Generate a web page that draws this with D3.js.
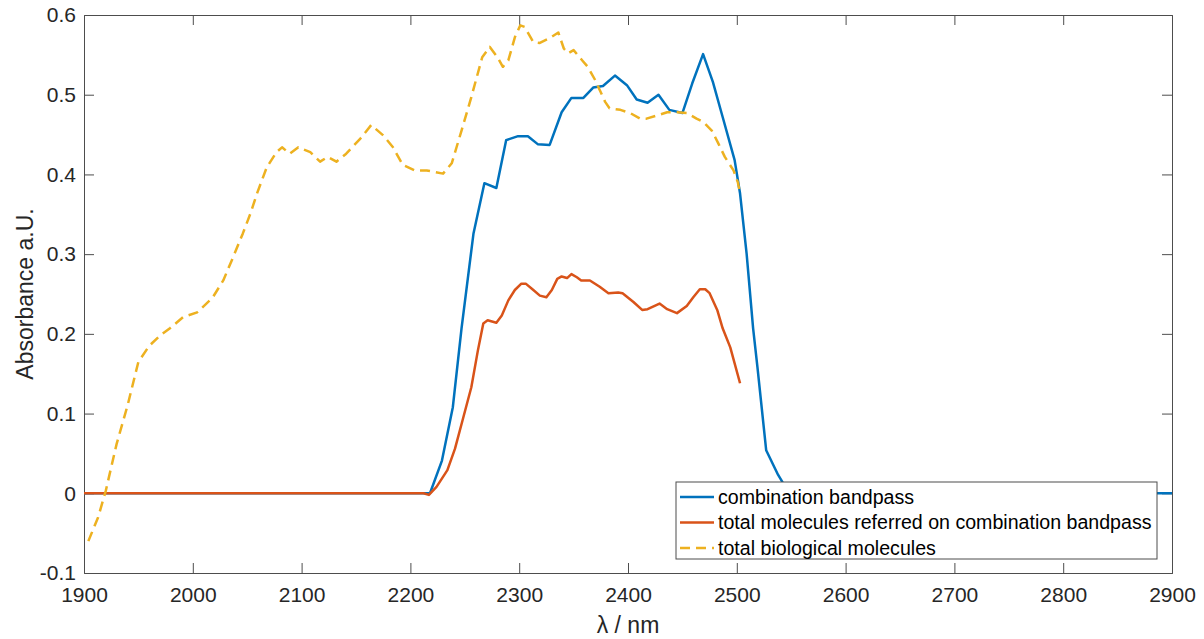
<!DOCTYPE html>
<html>
<head>
<meta charset="utf-8">
<script src="https://cdn.jsdelivr.net/npm/d3@7"></script>
<style>
  body { margin: 0; background: #fff; }
  svg { display: block; font-family: "Liberation Sans", Arial, sans-serif; }
</style>
</head>
<body>
<svg id="chart" width="1204" height="639"></svg>
<script>
// Datos
const xTicks = [1900, 2000, 2100, 2200, 2300, 2400, 2500, 2600, 2700, 2800, 2900];
const yTicks = [-0.1, 0, 0.1, 0.2, 0.3, 0.4, 0.5, 0.6];

const seriesNames = [
  'combination bandpass',
  'total molecules referred on combination bandpass',
  'total biological molecules'
];

// combination bandpass
const bandNm = [1900, 2218, 2229, 2239, 2247, 2258, 2268, 2279, 2288, 2299, 2308, 2317, 2328, 2339, 2348,
  2359, 2368, 2377, 2388, 2399, 2408, 2418, 2428, 2438, 2450, 2459, 2469, 2478, 2487, 2498,
  2503, 2509, 2515, 2519, 2527, 2538, 2542, 2549, 2900];
const bandAbs = [0, 0, 0.041, 0.108, 0.207, 0.326, 0.389, 0.383, 0.443, 0.448, 0.448, 0.438, 0.437, 0.478, 0.496,
  0.496, 0.509, 0.511, 0.524, 0.512, 0.494, 0.490, 0.500, 0.481, 0.477, 0.514, 0.551, 0.516, 0.472, 0.418,
  0.376, 0.301, 0.207, 0.158, 0.054, 0.023, 0.014, 0, 0];

// total molecules referred on combination bandpass
const refNm = [1900, 2212, 2217, 2224, 2234, 2241, 2248, 2256, 2262, 2267, 2271, 2279, 2284, 2290, 2296,
  2302, 2306, 2313, 2319, 2325, 2330, 2335, 2339, 2344, 2348, 2353, 2357, 2365, 2374, 2382,
  2391, 2395, 2405, 2413, 2418, 2429, 2436, 2445, 2454, 2460, 2466, 2471, 2475, 2482, 2487,
  2494, 2503];
const refAbs = [0, 0, -0.002, 0.008, 0.029, 0.056, 0.092, 0.133, 0.179, 0.213, 0.217, 0.214, 0.223, 0.242, 0.255,
  0.263, 0.263, 0.255, 0.248, 0.246, 0.255, 0.269, 0.272, 0.270, 0.275, 0.271, 0.267, 0.267, 0.259, 0.251,
  0.252, 0.251, 0.240, 0.230, 0.231, 0.238, 0.231, 0.226, 0.235, 0.246, 0.256, 0.256, 0.251, 0.230, 0.207,
  0.183, 0.138];

// total biological molecules
const bioNm = [1904, 1913, 1920, 1930, 1940, 1950, 1960, 1970, 1979, 1991, 2004, 2018, 2028, 2037, 2046,
  2053, 2059, 2068, 2077, 2082, 2089, 2097, 2108, 2117, 2124, 2132, 2141, 2154, 2164, 2175,
  2184, 2193, 2204, 2215, 2230, 2238, 2247, 2256, 2266, 2273, 2280, 2285, 2290, 2296, 2301,
  2305, 2313, 2319, 2328, 2336, 2341, 2345, 2350, 2358, 2363, 2370, 2374, 2379, 2383, 2393,
  2402, 2411, 2417, 2427, 2436, 2445, 2454, 2463, 2469, 2477, 2483, 2489, 2497, 2501, 2503];
const bioAbs = [-0.060, -0.030, 0.003, 0.062, 0.110, 0.165, 0.185, 0.198, 0.207, 0.221, 0.227, 0.245, 0.267, 0.296, 0.326,
  0.351, 0.376, 0.409, 0.428, 0.434, 0.426, 0.434, 0.428, 0.416, 0.422, 0.416, 0.426, 0.445, 0.462, 0.449,
  0.434, 0.412, 0.405, 0.405, 0.401, 0.414, 0.455, 0.497, 0.547, 0.560, 0.547, 0.535, 0.543, 0.572, 0.587,
  0.585, 0.566, 0.565, 0.571, 0.578, 0.558, 0.552, 0.556, 0.543, 0.535, 0.518, 0.506, 0.491, 0.483, 0.481,
  0.477, 0.470, 0.470, 0.474, 0.478, 0.478, 0.477, 0.470, 0.466, 0.455, 0.439, 0.422, 0.405, 0.390, 0.376];

const colors = ['#0072BD', '#D95319', '#EDB120'];

// Configuración
const svg = d3.select('#chart');
const margin = { t: 15, r: 32, b: 66, l: 84 };
const width = 1204, height = 639;
const axisColor = '#4d4d4d';

const x = d3.scaleLinear().domain([1900, 2900]).range([margin.l, width - margin.r]);
const y = d3.scaleLinear().domain([-0.1, 0.6]).range([height - margin.b, margin.t]);

const tickLen = 10;
const fmtY = d => d === 0 ? '0' : d.toFixed(1);

// Ejes
const gx = svg.append('g').attr('transform', `translate(0,${y(-0.1)})`)
  .call(d3.axisBottom(x).tickValues(xTicks).tickSize(-tickLen).tickPadding(14).tickFormat(d3.format('d')));
const gxTop = svg.append('g').attr('transform', `translate(0,${y(0.6)})`)
  .call(d3.axisTop(x).tickValues(xTicks).tickSize(-tickLen).tickFormat(''));
const gy = svg.append('g').attr('transform', `translate(${x(1900)},0)`)
  .call(d3.axisLeft(y).tickValues(yTicks).tickSize(-tickLen).tickPadding(8).tickFormat(fmtY));
const gyRight = svg.append('g').attr('transform', `translate(${x(2900)},0)`)
  .call(d3.axisRight(y).tickValues(yTicks).tickSize(-tickLen).tickFormat(''));

[gx, gxTop, gy, gyRight].forEach(g => {
  g.selectAll('path').attr('stroke', axisColor).attr('stroke-width', 1);
  g.selectAll('line').attr('stroke', axisColor).attr('stroke-width', 1);
  g.selectAll('text').attr('fill', '#262626').style('font-size', '21px')
    .style('font-family', '"Liberation Sans", Arial, sans-serif');
});
// quitar marcas en los extremos que se solapan con el marco
gx.selectAll('.tick line').filter(d => d === 1900 || d === 2900).remove();
gxTop.selectAll('.tick line').filter(d => d === 1900 || d === 2900).remove();
gy.selectAll('.tick line').filter(d => d === -0.1 || d === 0.6).remove();
gyRight.selectAll('.tick line').filter(d => d === -0.1 || d === 0.6).remove();

// Curvas
const clip = svg.append('clipPath').attr('id', 'clip').append('rect')
  .attr('x', x(1900)).attr('y', y(0.6)).attr('width', x(2900) - x(1900)).attr('height', y(-0.1) - y(0.6));

const line = d3.line().x(d => x(d[0])).y(d => y(d[1]));
const plot = svg.append('g').attr('clip-path', 'url(#clip)');

plot.append('path').datum(d3.zip(bandNm, bandAbs)).attr('d', line)
  .attr('fill', 'none').attr('stroke', colors[0]).attr('stroke-width', 2.5).attr('stroke-linejoin', 'round');
plot.append('path').datum(d3.zip(refNm, refAbs)).attr('d', line)
  .attr('fill', 'none').attr('stroke', colors[1]).attr('stroke-width', 2.5).attr('stroke-linejoin', 'round');
plot.append('path').datum(d3.zip(bioNm, bioAbs)).attr('d', line)
  .attr('fill', 'none').attr('stroke', colors[2]).attr('stroke-width', 2.5)
  .attr('stroke-dasharray', '10,6').attr('stroke-linejoin', 'round');

// Leyenda
const legend = svg.append('g').attr('transform', 'translate(676,482)');
legend.append('rect').attr('width', 481).attr('height', 77)
  .attr('fill', '#fff').attr('stroke', axisColor).attr('stroke-width', 1);
seriesNames.forEach((name, i) => {
  const ly = 15 + i * 25.5;
  legend.append('line').attr('x1', 4).attr('x2', 38).attr('y1', ly).attr('y2', ly)
    .attr('stroke', colors[i]).attr('stroke-width', 2.5)
    .attr('stroke-dasharray', i === 2 ? '10,6' : null);
  legend.append('text').attr('x', 42).attr('y', ly).attr('dy', '0.35em')
    .attr('fill', '#000').style('font-size', '19.6px').text(name);
});

// Títulos de ejes
svg.append('text').attr('x', (x(1900) + x(2900)) / 2).attr('y', 633)
  .attr('text-anchor', 'middle').attr('fill', '#262626').style('font-size', '23px')
  .text('λ / nm');
svg.append('text').attr('transform', `translate(33,${(y(0.6) + y(-0.1)) / 2}) rotate(-90)`)
  .attr('text-anchor', 'middle').attr('fill', '#262626').style('font-size', '23px')
  .text('Absorbance a.U.');
</script>
</body>
</html>
